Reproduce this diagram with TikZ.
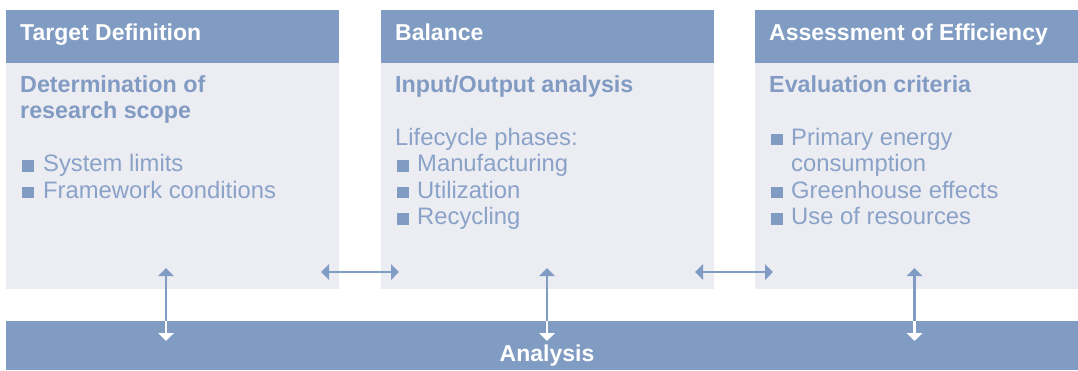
\documentclass[tikz,border=0pt]{standalone}
\usepackage{fontspec}
\setmainfont{Liberation Sans}
\usetikzlibrary{arrows.meta}
\definecolor{hdr}{HTML}{819CC3}
\definecolor{bodybg}{HTML}{ECEDF3}
\definecolor{boldc}{HTML}{819BC3}
\definecolor{txt}{HTML}{8AA2C8}
\begin{document}
\begin{tikzpicture}[x=1pt,y=-1pt,
  hdrbox/.style={fill=hdr, inner sep=0, outer sep=0, anchor=north west, minimum height=53pt},
  bodybox/.style={fill=bodybg, inner sep=0, outer sep=0, anchor=north west, minimum height=225.5pt},
  htext/.style={anchor=base west, inner sep=0, text=white, font=\fontsize{23}{26}\selectfont\bfseries},
  btext/.style={anchor=base west, inner sep=0, text=boldc, font=\fontsize{23.3}{26}\selectfont\bfseries},
  rtext/.style={anchor=base west, inner sep=0, text=txt, font=\fontsize{23.8}{26}\selectfont},
  bul/.style={fill=hdr, inner sep=0, outer sep=0, minimum size=11.5pt, anchor=south west},
  conn/.style={draw=hdr, line width=2.3pt},
  connw/.style={draw=white, line width=2.3pt}
]
\useasboundingbox (0,0) rectangle (1078,370);
\fill[white] (0,0) rectangle (1078,370);

% boxes
\node[hdrbox, minimum width=333pt] (h1) at (6,10) {};
\node[bodybox, minimum width=333pt] (b1) at (6,63) {};
\node[hdrbox, minimum width=333pt] (h2) at (381,10) {};
\node[bodybox, minimum width=333pt] (b2) at (381,63) {};
\node[hdrbox, minimum width=323pt] (h3) at (755,10) {};
\node[bodybox, minimum width=323pt] (b3) at (755,63) {};
\node[fill=hdr, inner sep=0, outer sep=0, anchor=north west, minimum width=1072pt, minimum height=49pt] (bar) at (6,321) {};

% box 1 text
\node[htext] (t1) at (20,40) {Target Definition};
\node[btext] (s1a) at (20,92) {Determination of};
\node[btext] (s1b) at (20,118) {research scope};
\node[bul] (q1a) at (22,171.5) {};
\node[rtext] (l1a) at (43,171.5) {System limits};
\node[bul] (q1b) at (22,198) {};
\node[rtext] (l1b) at (43,198) {Framework conditions};

% box 2 text
\node[htext] (t2) at (395,40) {Balance};
\node[btext] (s2a) at (395,92) {Input/Output analysis};
\node[rtext] (l2) at (395,145) {Lifecycle phases:};
\node[bul] (q2a) at (397,171.5) {};
\node[rtext] (l2a) at (417,171.5) {Manufacturing};
\node[bul] (q2b) at (397,198) {};
\node[rtext] (l2b) at (417,198) {Utilization};
\node[bul] (q2c) at (397,224.5) {};
\node[rtext] (l2c) at (417,224.5) {Recycling};

% box 3 text
\node[htext] (t3) at (769,40) {Assessment of Efficiency};
\node[btext] (s3a) at (769,92) {Evaluation criteria};
\node[bul] (q3a) at (771,145) {};
\node[rtext] (l3a) at (791,145) {Primary energy};
\node[rtext] (l3a2) at (791,171.5) {consumption};
\node[bul] (q3b) at (771,198) {};
\node[rtext] (l3b) at (791,198) {Greenhouse effects};
\node[bul] (q3c) at (771,224.5) {};
\node[rtext] (l3c) at (791,224.5) {Use of resources};

% analysis label
\node[anchor=base, inner sep=0, text=white, font=\fontsize{23}{26}\selectfont\bfseries] (an) at (547,361) {Analysis};

% connector end points
\coordinate (ha1) at (321,272);
\coordinate (hb1) at (399,272);
\coordinate (ha2) at (695,272);
\coordinate (hb2) at (773,272);
\coordinate (va1) at (166,268);
\coordinate (vb1) at (166,341);
\coordinate (va2) at (547,268);
\coordinate (vb2) at (547,341);
\coordinate (va3) at (914.5,268);
\coordinate (vb3) at (914.5,341);

% horizontal double arrows
\draw[conn, {Triangle[width=15.5pt,length=8pt]}-{Triangle[width=15.5pt,length=8pt]}] (ha1) -- (hb1);
\draw[conn, {Triangle[width=15.5pt,length=8pt]}-{Triangle[width=15.5pt,length=8pt]}] (ha2) -- (hb2);

% vertical arrows
\foreach \i in {1,2,3}{
  \draw[conn, {Triangle[width=15.5pt,length=8pt]}-] (va\i) -- (va\i |- bar.north);
  \draw[connw, -{Triangle[width=15.5pt,length=8pt]}] (va\i |- bar.north) -- (vb\i);
}
\end{tikzpicture}
\end{document}
